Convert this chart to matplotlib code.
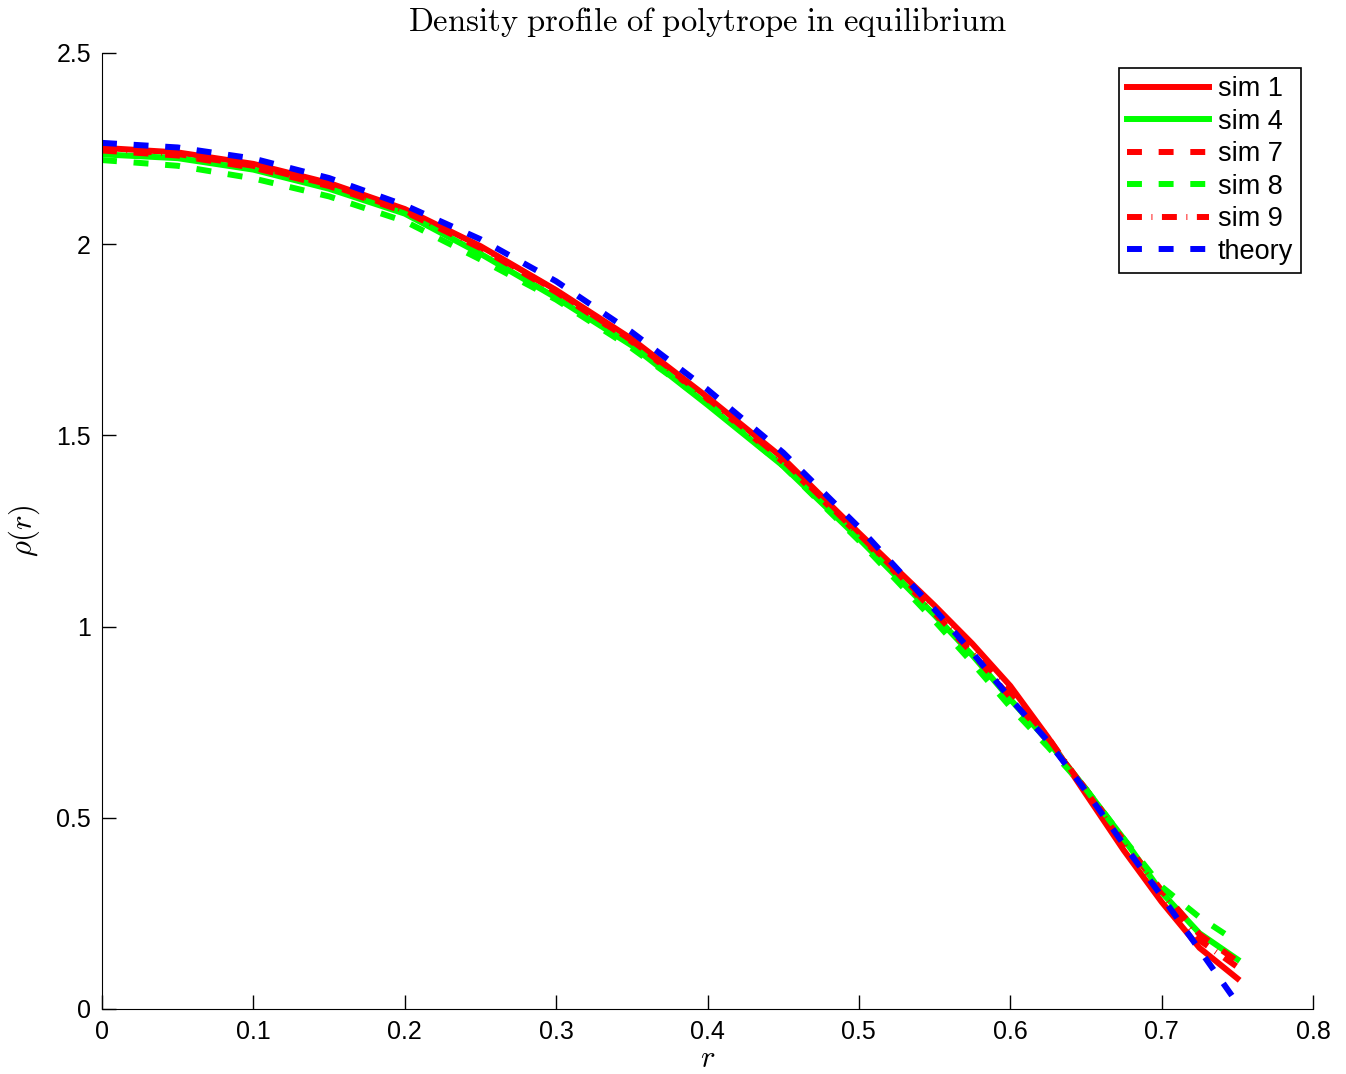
import matplotlib
matplotlib.use("Agg")
import matplotlib.pyplot as plt

r = [0.0, 0.05, 0.10, 0.15, 0.20, 0.25, 0.30, 0.35, 0.40, 0.45, 0.50, 0.55, 0.575,
     0.60, 0.625, 0.65, 0.675, 0.70, 0.725, 0.75]

sim1 = [2.252, 2.240, 2.210, 2.160, 2.092, 1.995, 1.880, 1.752, 1.600, 1.440, 1.245, 1.055, 0.955,
        0.845, 0.710, 0.562, 0.415, 0.280, 0.160, 0.080]
sim4 = [2.235, 2.225, 2.195, 2.145, 2.080, 1.975, 1.860, 1.735, 1.580, 1.420, 1.230, 1.030, 0.925,
        0.810, 0.700, 0.575, 0.445, 0.305, 0.198, 0.130]
sim7 = [2.245, 2.232, 2.200, 2.152, 2.085, 1.990, 1.875, 1.745, 1.595, 1.430, 1.240, 1.035, 0.930,
        0.815, 0.700, 0.575, 0.440, 0.310, 0.195, 0.125]
sim8 = [2.220, 2.205, 2.172, 2.125, 2.060, 1.960, 1.855, 1.728, 1.585, 1.420, 1.225, 1.015, 0.905,
        0.790, 0.685, 0.575, 0.445, 0.320, 0.240, 0.175]
sim9 = [2.250, 2.236, 2.205, 2.156, 2.088, 1.992, 1.878, 1.748, 1.597, 1.435, 1.242, 1.045, 0.940,
        0.830, 0.710, 0.570, 0.430, 0.300, 0.180, 0.110]
theory = [2.265, 2.253, 2.224, 2.173, 2.102, 2.013, 1.903, 1.770, 1.620, 1.455, 1.260, 1.045, 0.932,
          0.812, 0.700, 0.570, 0.430, 0.295, 0.155, 0.015]

xticks = [0, 0.1, 0.2, 0.3, 0.4, 0.5, 0.6, 0.7, 0.8]
xticklabels = ["0", "0.1", "0.2", "0.3", "0.4", "0.5", "0.6", "0.7", "0.8"]
yticks = [0, 0.5, 1, 1.5, 2, 2.5]
yticklabels = ["0", "0.5", "1", "1.5", "2", "2.5"]

plt.rcParams['font.family'] = ['Liberation Sans', 'DejaVu Sans']
plt.rcParams['mathtext.fontset'] = 'cm'

fig = plt.figure(figsize=(13.46, 10.74), dpi=100)
ax = fig.add_axes([102/1346, 1-1009/1074, (1313-102)/1346, (1009-53)/1074])

lw = 4.3
red = '#ff0000'
green = '#00ff00'
blue = '#0000ff'
ax.plot(r, sim1, color=red, lw=lw, label='sim 1')
ax.plot(r, sim4, color=green, lw=lw, label='sim 4')
ax.plot(r, sim7, color=red, lw=lw, dashes=(2.5, 2.8), dash_capstyle='butt', label='sim 7')
ax.plot(r, sim8, color=green, lw=lw, dashes=(2.5, 2.8), dash_capstyle='butt', label='sim 8')
ax.plot(r, sim9, color=red, lw=lw, dashes=(2.5, 1.6, 0.15, 1.6), dash_capstyle='butt', label='sim 9')
ax.plot(r, theory, color=blue, lw=lw, dashes=(2.5, 2.8), dash_capstyle='butt', label='theory')

ax.set_xlim(0, 0.8)
ax.set_ylim(0, 2.5)
ax.set_xticks(xticks)
ax.set_xticklabels(xticklabels)
ax.set_yticks(yticks)
ax.set_yticklabels(yticklabels)
ax.tick_params(direction='in', length=10, width=1, labelsize=18, pad=8)
ax.spines['top'].set_visible(False)
ax.spines['right'].set_visible(False)

ax.set_title(r'$\mathrm{Density\ profile\ of\ polytrope\ in\ equilibrium}$', fontsize=23.5, pad=16)
ax.set_xlabel(r'$r$', fontsize=22, labelpad=0)
ax.set_ylabel(r'$\rho(r)$', fontsize=22, labelpad=10)

leg = ax.legend(loc='upper right', bbox_to_anchor=(0.9905, 0.984), fontsize=19.5,
                handlelength=3.0, handletextpad=0.35, labelspacing=0.24,
                borderpad=0.3, borderaxespad=0.0, fancybox=False, framealpha=1, edgecolor='black')
leg.get_frame().set_linewidth(1.2)

fig.savefig('out.png', dpi=100)
